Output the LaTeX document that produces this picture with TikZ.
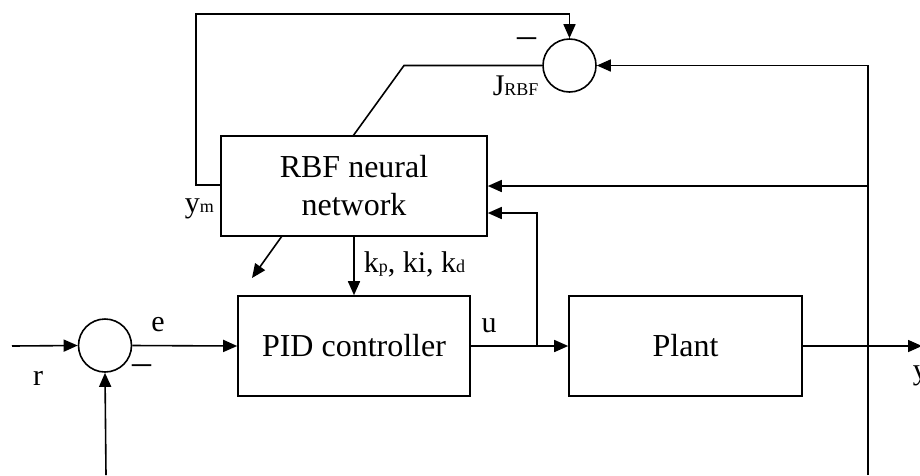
\documentclass[tikz,border=0pt]{standalone}
\usepackage{fontspec}
\setmainfont{Liberation Serif}
\usetikzlibrary{arrows.meta}
\newcommand\smallsub[1]{{\fontsize{18}{18}\selectfont #1}}
\begin{document}
\begin{tikzpicture}[x=1pt,y=-1pt,
  line width=1.6pt,
  conn/.style={draw,-{Triangle[length=14pt,width=12pt]}},
  plain/.style={draw},
  blockbox/.style={draw,rectangle,inner sep=0pt,font=\fontsize{32}{38}\selectfont,align=center},
  sumnode/.style={draw,circle,inner sep=0pt,minimum size=53pt},
  lbl/.style={inner sep=0pt,font=\fontsize{30}{34}\selectfont},
  minuslbl/.style={inner sep=0pt,font=\fontsize{38}{38}\selectfont}]
\useasboundingbox (0,0) rectangle (920,475);
% blocks
\node[sumnode] (s1) at (105,345.5) {};
\node[sumnode] (sj) at (569.5,65.5) {};
\node[blockbox,minimum width=232pt,minimum height=100pt] (pid) at (354,346) {PID controller};
\node[blockbox,minimum width=233pt,minimum height=100pt] (plant) at (685.5,346) {Plant};
\node[blockbox,minimum width=266pt,minimum height=100pt] (rbf) at (354,186) {RBF neural\\network};
% coordinates
\coordinate (rin) at (12,346);
\coordinate (yout) at (922,346);
\coordinate (ubr) at (537,346);
\coordinate (ubrt) at (537,213);
\coordinate (fbr) at (868,475);
\coordinate (fbrt) at (868,65.5);
\coordinate (fbmid) at (868,186);
\coordinate (fbl) at (106,475);
\coordinate (tl1) at (196,185);
\coordinate (tl2) at (196,14);
\coordinate (tl3) at (569.5,14);
\coordinate (jbend) at (404,65.5);
\coordinate (rbftop) at (353,136);
\coordinate (diagA) at (282,236);
\coordinate (diagB) at (252,278);
% connectors
\draw[conn] (rin) -- (s1.west);
\draw[conn] (s1.east) -- (pid.west);
\draw[conn] (pid.east) -- (plant.west);
\draw[conn] (ubr) -- (ubrt) -- (ubrt -| rbf.east);
\draw[conn] (plant.east) -- (yout);
\draw[conn] (fbr) -- (fbrt) -- (sj.east);
\draw[conn] (fbmid) -- (fbmid -| rbf.east);
\draw[conn] (fbl) -- (s1.south);
\draw[conn] (rbf.south) -- (pid.north);
\draw[conn] (diagA) -- (diagB);
\draw[conn] (tl1 -| rbf.west) -- (tl1) -- (tl2) -- (tl3) -- (sj.north);
\draw[plain] (sj.west) -- (jbend) -- (rbftop);
% labels
\node[lbl] (lr) at (38,378) {r};
\node[lbl] (le) at (158,325) {e};
\node[minuslbl] (lm1) at (142,370) {–};
\node[lbl] (lu) at (489,326) {u};
\node[lbl,anchor=west] (lym) at (184,209) {y\smallsub{m}};
\node[lbl,anchor=west] (lk) at (363,264) {k\smallsub{p}, ki, k\smallsub{d}};
\node[lbl,anchor=west] (lj) at (492,86) {J\smallsub{RBF}};
\node[minuslbl] (lm2) at (527,43) {–};
\node[lbl,anchor=west] (ly) at (912,376) {y};
\end{tikzpicture}
\end{document}
